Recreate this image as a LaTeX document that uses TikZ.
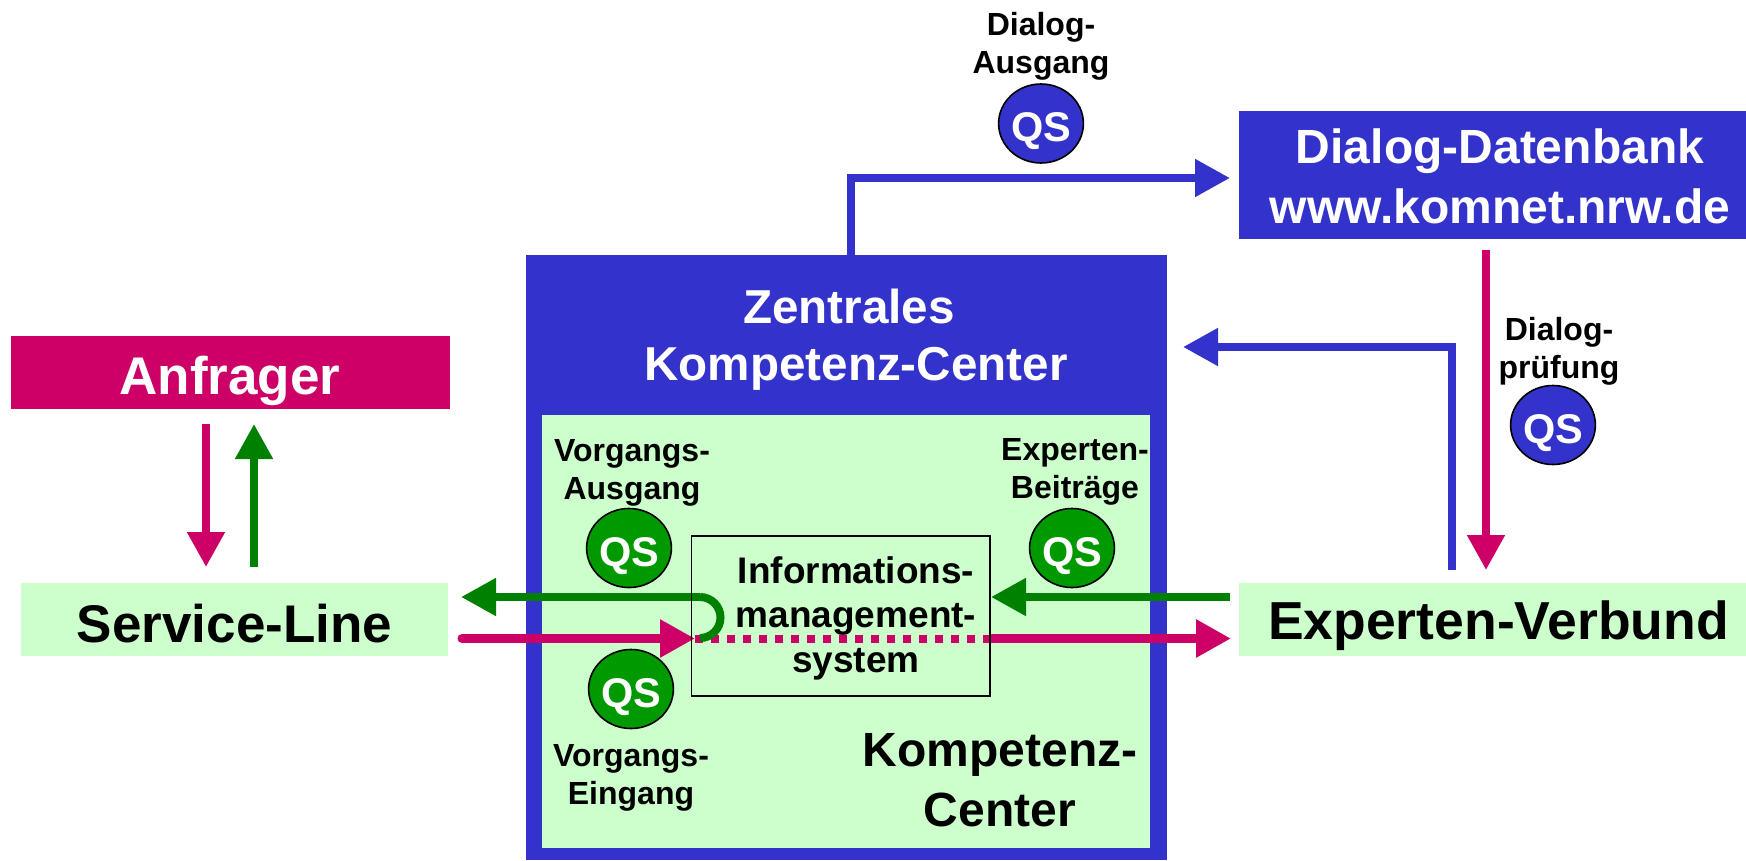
\documentclass[tikz,border=0pt]{standalone}
\usepackage{fontspec}
\setmainfont{Liberation Sans}
\usetikzlibrary{arrows.meta,shapes.geometric}
\definecolor{qblue}{HTML}{3333CC}
\definecolor{qmag}{HTML}{CC0066}
\definecolor{qgreen}{HTML}{009900}
\definecolor{qarrow}{HTML}{008000}
\definecolor{qlight}{HTML}{CCFFCC}
\tikzset{
 txt/.style args={#1/#2}{inner sep=0pt,outer sep=0pt,align=center,font=\bfseries\fontsize{#1}{#2}\selectfont},
 qs/.style={ellipse,draw=black,line width=1.6pt,fill=#1,text=white,text height=36pt,text depth=0pt,minimum width=84pt,minimum height=79pt,inner sep=0pt,outer sep=0pt,font=\bfseries\fontsize{41.5}{41.5}\selectfont},
 conn/.style={line width=8pt,draw=#1,-{Triangle[length=35pt,width=36pt]}},
 plain/.style={line width=8pt,draw=#1},
}
\begin{document}
\begin{tikzpicture}[x=1pt,y=-1pt]
\useasboundingbox (0,0) rectangle (1746,860);
% boxes
\fill[qblue] (526,255) rectangle (1167,860);
\fill[qlight] (542,415) rectangle (1150,848);
\node[txt=47.6/57,text=white] (zk) at (856,340) {Zentrales\kern14pt\\Kompetenz-Center};
\fill[qmag] (11,336) rectangle (450,409);
\node[txt=53/53,text=white] (anf) at (230,381) {Anfrager};
\fill[qlight] (21,583) rectangle (448,656);
\node[txt=53/53] (sl) at (234.5,624) {Service-Line};
\fill[qblue] (1239,111) rectangle (1746,239);
\node[txt=48/60,text=white] (dd) at (1500,176) {Dialog-Datenbank\\www.komnet.nrw.de};
\fill[qlight] (1239,583) rectangle (1746,656);
\node[txt=53.5/53] (ev) at (1498.5,626) {Experten-Verbund};
% free ends
\coordinate (a1) at (851,255); \coordinate (a2) at (851,178); \coordinate (a3) at (1230,178);
\coordinate (b1) at (1452,570); \coordinate (b2) at (1452,347); \coordinate (b3) at (1183,347);
\coordinate (c1) at (1486,250); \coordinate (c2) at (1486,570);
\coordinate (d1) at (206,424); \coordinate (d2) at (206,567);
\coordinate (e1) at (254,567); \coordinate (e2) at (254,424);
\coordinate (f1) at (1230,597); \coordinate (f2) at (991,597);
\coordinate (g1) at (700,597); \coordinate (g2) at (461,597); \coordinate (g3) at (700,638);
\coordinate (h1) at (462,638.5); \coordinate (h2) at (695,638.5);
\coordinate (i1) at (695,638.5); \coordinate (i2) at (990,638.5);
\coordinate (j1) at (990,638.5); \coordinate (j2) at (1231,638.5);
% connectors
\draw[conn=qblue] (a1) -- (a2) -- (a3);
\draw[conn=qblue] (b1) -- (b2) -- (b3);
\draw[conn=qmag] (c1) -- (c2);
\draw[conn=qmag] (d1) -- (d2);
\draw[conn=qarrow] (e1) -- (e2);
\draw[conn=qmag,line width=9pt,line cap=round] (h1) -- (h2);
\draw[plain=qmag,dash pattern=on 8pt off 8pt] (i1) -- (i2);
\draw[conn=qmag,line width=9pt] (j1) -- (j2);
\draw[conn=qarrow] (f1) -- (f2);
\draw[conn=qarrow] (g1) -- (g2);
\draw[plain=qarrow] (g1) .. controls (711.3,597) and (720.5,606.2) .. (720.5,617.5) .. controls (720.5,628.8) and (711.3,638) .. (g3);
% IMS box
\draw[black,line width=1.8pt] (691.5,536) rectangle (990,696);
\node[txt=37/44.5] (ims) at (856,618) {Informations-\\management-\\system};
% QS circles
\node[qs=qblue] (q1) at (1041,123.5) {QS};
\node[qs=qblue] (q2) at (1553,425) {QS};
\node[qs=qgreen] (q3) at (629,548) {QS};
\node[qs=qgreen] (q4) at (631,689) {QS};
\node[qs=qgreen] (q5) at (1072,548) {QS};
% labels
\node[txt=32/38] (l1) at (1041,46.5) {Dialog-\\Ausgang};
\node[txt=32/38] (l2) at (1559,351) {Dialog-\\prüfung};
\node[txt=32/38] (l3) at (632,473) {Vorgangs-\\Ausgang};
\node[txt=32/38] (l4) at (1075,472) {Experten-\\Beiträge};
\node[txt=32/38] (l5) at (631,778) {Vorgangs-\\Eingang};
\node[txt=48/60] (l6) at (1000,780) {Kompetenz-\\Center};
\end{tikzpicture}
\end{document}
